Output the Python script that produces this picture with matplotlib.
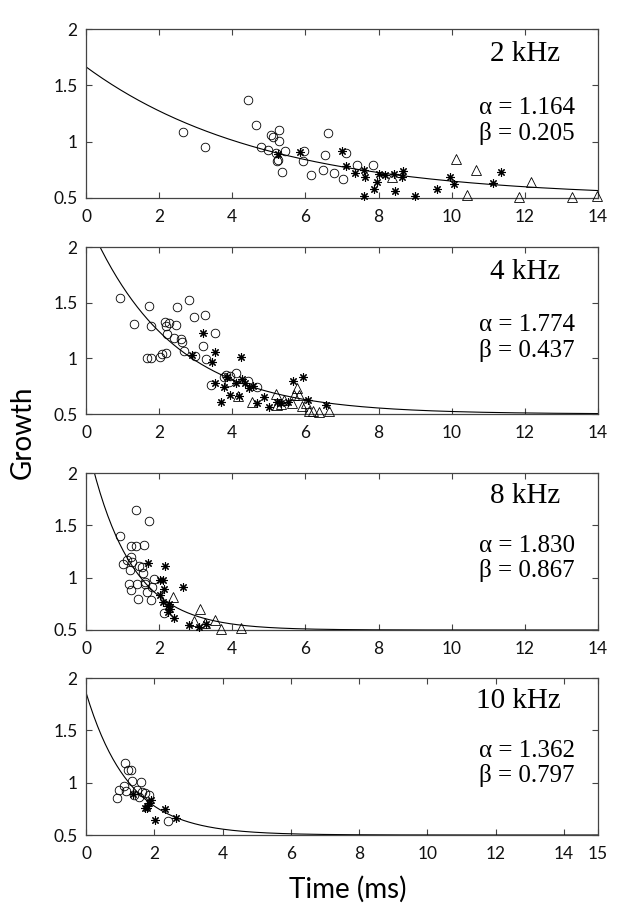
"""
Growth vs. time for four frequencies, with exponential fit
y = 0.5 + alpha * exp(-beta * t).
"""

import numpy as np
import matplotlib
matplotlib.use('Agg')
import matplotlib.pyplot as plt

# ---- data ----
FREQS = ['2 kHz', '4 kHz', '8 kHz', '10 kHz']
ALPHAS = [1.164, 1.774, 1.830, 1.362]
BETAS = [0.205, 0.437, 0.867, 0.797]
X_MAX = [14, 14, 14, 15]

# 2 kHz
t_circ_2 = [2.64, 3.26, 4.43, 4.66, 4.79, 4.98, 5.05, 5.10, 5.19, 5.21, 5.24, 5.27, 5.27,
            5.36, 5.43, 5.92, 5.95, 6.14, 6.48, 6.53, 6.63, 6.79, 7.03, 7.10, 7.40, 7.84]
g_circ_2 = [1.09, 0.95, 1.37, 1.15, 0.95, 0.93, 1.06, 1.04, 0.90, 0.83, 0.84, 1.10, 1.01,
            0.73, 0.92, 0.83, 0.92, 0.70, 0.75, 0.88, 1.08, 0.72, 0.67, 0.90, 0.79, 0.79]
t_star_2 = [5.24, 5.86, 6.99, 7.12, 7.35, 7.61, 7.62, 7.61, 7.88, 7.97, 8.00, 8.18, 8.43,
            8.45, 8.63, 8.66, 8.99, 9.61, 9.94, 10.07, 11.12, 11.36]
g_star_2 = [0.89, 0.91, 0.92, 0.78, 0.72, 0.75, 0.69, 0.52, 0.58, 0.64, 0.71, 0.70, 0.71,
            0.56, 0.69, 0.74, 0.52, 0.58, 0.69, 0.62, 0.63, 0.73]
t_tri_2 = [8.37, 10.12, 10.42, 10.66, 11.84, 12.17, 13.30, 13.98]
g_tri_2 = [0.69, 0.85, 0.53, 0.75, 0.51, 0.64, 0.51, 0.52]

# 4 kHz
t_circ_4 = [0.92, 1.31, 1.72, 1.78, 1.66, 1.79, 2.03, 2.07, 2.19, 2.16, 2.19, 2.21, 2.27,
            2.45, 2.40, 2.50, 2.60, 2.63, 2.81, 2.94, 2.67, 2.97, 3.21, 3.27, 3.26, 3.52,
            3.43, 3.76, 3.84, 3.94, 4.11, 3.92, 4.43, 4.67]
g_circ_4 = [1.54, 1.31, 1.47, 1.29, 1.00, 1.00, 1.01, 1.04, 1.05, 1.33, 1.29, 1.22, 1.32,
            1.30, 1.18, 1.46, 1.17, 1.15, 1.52, 1.37, 1.07, 1.02, 1.11, 0.99, 1.39, 1.23,
            0.76, 0.83, 0.85, 0.84, 0.87, 0.79, 0.80, 0.74]
t_star_4 = [2.89, 3.19, 3.45, 3.54, 4.25, 3.54, 3.70, 3.76, 3.86, 3.94, 4.11, 4.18, 4.26,
            4.35, 4.47, 4.56, 4.67, 4.87, 5.00, 5.21, 5.34, 5.51, 5.67, 5.94, 6.07, 6.56]
g_star_4 = [1.03, 1.23, 0.97, 1.06, 1.01, 0.78, 0.61, 0.74, 0.83, 0.67, 0.78, 0.66, 0.81,
            0.78, 0.73, 0.75, 0.60, 0.65, 0.56, 0.61, 0.60, 0.61, 0.80, 0.83, 0.63, 0.58]
t_tri_4 = [4.16, 4.53, 5.19, 5.21, 5.32, 5.42, 5.62, 5.70, 5.77, 5.83, 5.91, 6.02, 6.09,
           6.21, 6.37, 6.64]
g_tri_4 = [0.66, 0.61, 0.68, 0.58, 0.59, 0.63, 0.60, 0.67, 0.73, 0.67, 0.57, 0.60, 0.53,
           0.53, 0.52, 0.53]

# 8 kHz
t_circ_8 = [0.93, 1.38, 1.72, 1.22, 1.36, 1.58, 1.00, 1.13, 1.22, 1.25, 1.19, 1.46, 1.52,
            1.57, 1.60, 1.61, 1.87, 1.18, 1.24, 1.40, 1.41, 1.67, 1.78, 1.81, 2.14]
g_circ_8 = [1.40, 1.65, 1.54, 1.30, 1.30, 1.31, 1.13, 1.17, 1.20, 1.15, 1.07, 1.11, 1.10,
            1.04, 0.96, 0.94, 0.99, 0.94, 0.88, 0.94, 0.80, 0.86, 0.79, 0.91, 0.66]
t_star_8 = [1.70, 2.15, 2.02, 2.11, 2.14, 2.01, 2.11, 2.28, 2.24, 2.30, 2.24, 2.40, 2.64,
            2.82, 3.09, 3.27]
g_star_8 = [1.14, 1.11, 0.98, 0.98, 0.89, 0.83, 0.77, 0.75, 0.73, 0.70, 0.67, 0.61, 0.91,
            0.55, 0.53, 0.56]
t_tri_8 = [2.37, 3.13, 2.94, 3.25, 3.54, 3.68, 4.25]
g_tri_8 = [0.82, 0.70, 0.59, 0.57, 0.60, 0.51, 0.52]

# 10 kHz
t_circ_10 = [0.92, 0.98, 1.10, 1.17, 1.14, 1.22, 1.33, 1.34, 1.40, 1.48, 1.56, 1.60, 1.65,
             1.73, 1.85, 2.41]
g_circ_10 = [0.85, 0.93, 0.97, 0.92, 1.19, 1.12, 1.12, 1.02, 0.88, 0.93, 0.86, 1.01, 0.91,
             0.90, 0.88, 0.63]
t_star_10 = [1.38, 1.73, 1.78, 1.84, 1.89, 1.80, 2.03, 2.31, 2.63]
g_star_10 = [0.89, 0.76, 0.78, 0.81, 0.83, 0.76, 0.64, 0.75, 0.66]

CIRCLES = [(t_circ_2, g_circ_2), (t_circ_4, g_circ_4), (t_circ_8, g_circ_8), (t_circ_10, g_circ_10)]
STARS = [(t_star_2, g_star_2), (t_star_4, g_star_4), (t_star_8, g_star_8), (t_star_10, g_star_10)]
TRIANGLES = [(t_tri_2, g_tri_2), (t_tri_4, g_tri_4), (t_tri_8, g_tri_8), ([], [])]

# ---- layout (figure pixels, 618 x 913) ----
W, H = 618, 913
LEFT, RIGHT = 86, 598
PANELS = [(29, 198), (247, 414), (473, 630), (678, 835)]  # (top, bottom)

SANS = ['Liberation Sans Narrow', 'Lato']
SERIF = 'Liberation Serif'
AX_COLOR = '#444444'


def draw_panel(ax, i):
    """Ein Panel: Fitkurve, Messpunkte, Beschriftung."""
    x_max = X_MAX[i]
    t = np.linspace(0, x_max, 400)
    ax.plot(t, 0.5 + ALPHAS[i] * np.exp(-BETAS[i] * t), color='black', linewidth=0.8, zorder=2)

    tc, gc = CIRCLES[i]
    ax.plot(tc, gc, linestyle='none', marker='o', ms=6.2, mfc='none', mec='black', mew=0.6,
            zorder=3, clip_on=False)
    ts, gs = STARS[i]
    ax.plot(ts, gs, linestyle='none', marker=(8, 2, 0), ms=6, color='black', mew=0.8,
            zorder=3, clip_on=False)
    tt, gt = TRIANGLES[i]
    if tt:
        ax.plot(tt, gt, linestyle='none', marker='^', ms=6.5, mfc='none', mec='black', mew=0.6,
                zorder=3, clip_on=False)

    ax.set_xlim(0, x_max)
    ax.set_ylim(0.5, 2)
    xticks = list(range(0, 15, 2)) + ([15] if x_max == 15 else [])
    ax.set_xticks(xticks)
    ax.set_yticks([0.5, 1, 1.5, 2])
    ax.set_yticklabels(['0.5', '1', '1.5', '2'])
    ax.tick_params(direction='in', top=True, right=True, length=4, width=0.8,
                   color=AX_COLOR, labelsize=12.5, labelcolor='#111111')
    ax.tick_params(axis='x', pad=8)
    ax.tick_params(axis='y', pad=6)
    for lab in ax.get_xticklabels() + ax.get_yticklabels():
        lab.set_fontfamily(SANS)
    for sp in ax.spines.values():
        sp.set_color(AX_COLOR)
        sp.set_linewidth(0.9)

    ax.text(0.927, 0.852, FREQS[i], transform=ax.transAxes, ha='right', va='center',
            fontsize=21, family=SERIF)
    ax.text(0.767, 0.535, f'\u03b1 = {ALPHAS[i]:.3f}', transform=ax.transAxes, ha='left',
            va='center', fontsize=18, family=SERIF)
    ax.text(0.767, 0.38, f'\u03b2 = {BETAS[i]:.3f}', transform=ax.transAxes, ha='left',
            va='center', fontsize=18, family=SERIF)


fig = plt.figure(figsize=(W / 100, H / 100), dpi=100)
for i, (top, bottom) in enumerate(PANELS):
    ax = fig.add_axes([LEFT / W, 1 - bottom / H, (RIGHT - LEFT) / W, (bottom - top) / H])
    draw_panel(ax, i)

fig.text(23 / W, 1 - 432 / H, 'Growth', rotation=90, ha='center', va='center',
         fontsize=20, family=SANS)
fig.text(348 / W, 1 - 889 / H, 'Time (ms)', ha='center', va='center',
         fontsize=20, family=SANS)

fig.savefig('out.png', dpi=100)
